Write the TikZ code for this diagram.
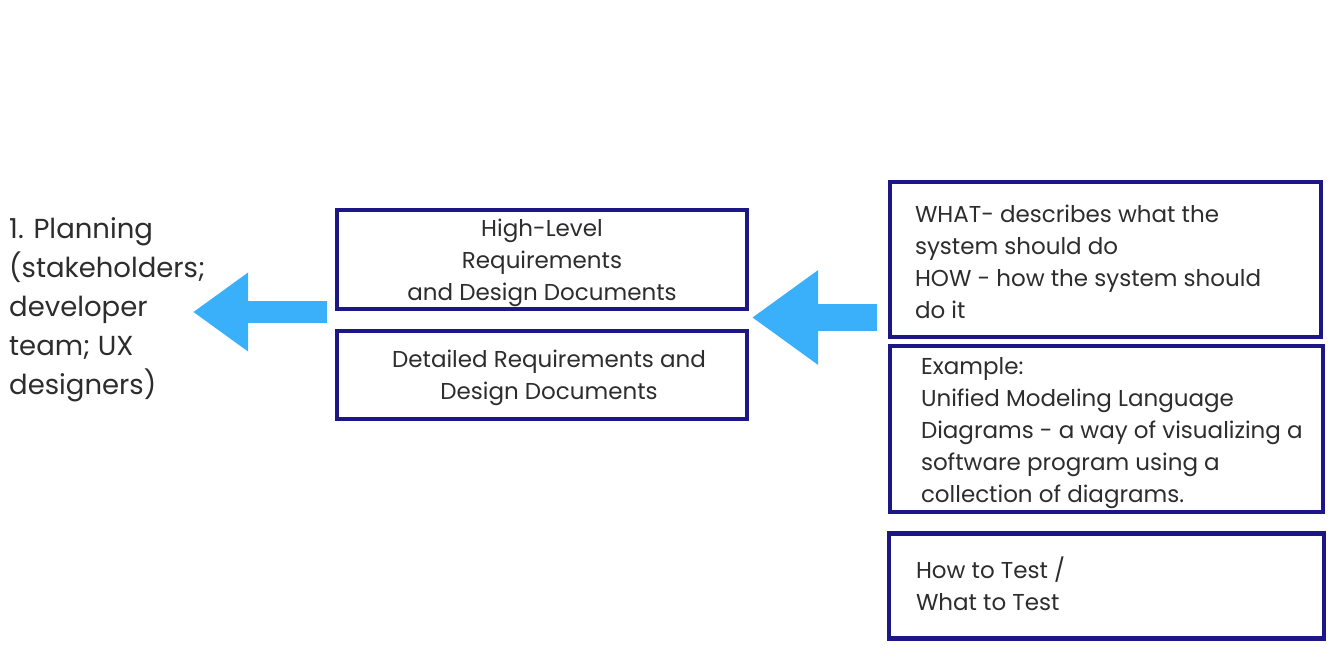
\documentclass[tikz,border=0pt]{standalone}
\usepackage{fontspec}
\setmainfont{Poppins}
\usetikzlibrary{arrows.meta}
\definecolor{navy}{RGB}{28,22,135}
\definecolor{txt}{RGB}{45,45,45}
\definecolor{arrowblue}{RGB}{58,176,250}
% [#1] vertical shift, #2 width, #3 alignment setup, #4 text
\newcommand\boxtext[4][-3pt]{\raisebox{#1}[\height][\depth]{\parbox{#2}{#3#4}}}
\tikzset{
  box/.style={draw=navy, line width=4.5pt, rectangle, text=txt, font=\fontsize{23}{32}\selectfont, inner sep=0pt},
}
\begin{document}
\begin{tikzpicture}[x=1pt,y=-1pt]
\useasboundingbox[fill=white] (0,0) rectangle (1339,659);
% left text
\node[anchor=west, align=left, inner sep=0pt, text=txt, font=\fontsize{27.5}{39}\selectfont] (plan) at (9,309.5)
  {1. Planning\\(stakeholders;\\developer\\team; UX\\designers)};
% middle boxes
\node[box, minimum width=410pt, minimum height=99pt] (hl) at (542,259.5)
  {\boxtext{400pt}{\centering}{High-Level\\Requirements\\and Design Documents}};
\node[box, minimum width=410pt, minimum height=88pt] (dr) at (542,375)
  {\boxtext{400pt}{\centering\leftskip=14pt plus 1fil\relax}{Detailed Requirements and\\Design Documents}};
% right boxes
\node[box, minimum width=431pt, minimum height=155pt] (what) at (1105.5,259.5)
  {\boxtext[-2pt]{431pt}{\raggedright\leftskip=25pt\relax}{WHAT- describes what the\\system should do\\HOW - how the system should\\do it}};
\node[box, minimum width=433pt, minimum height=166pt] (ex) at (1106.5,429)
  {\boxtext[-4pt]{433pt}{\raggedright\leftskip=31pt\relax}{Example:\\Unified Modeling Language\\Diagrams - a way of visualizing a\\software program using a\\collection of diagrams.}};
\node[box, minimum width=435pt, minimum height=105pt] (howt) at (1106.5,586)
  {\boxtext[2pt]{435pt}{\raggedright\leftskip=27pt\relax}{How to Test /\\What to Test}};
% arrows
\coordinate (a1s) at (327,312);
\coordinate (a1e) at (193,312);
\draw[draw=arrowblue, line width=22pt, -{Triangle[length=55pt,width=75pt]}] (a1s) -- (a1e);
\coordinate (a2s) at (877,317.5);
\coordinate (a2e) at (752,317.5);
\draw[draw=arrowblue, line width=27pt, -{Triangle[length=66pt,width=90pt]}] (a2s) -- (a2e);
\end{tikzpicture}
\end{document}
